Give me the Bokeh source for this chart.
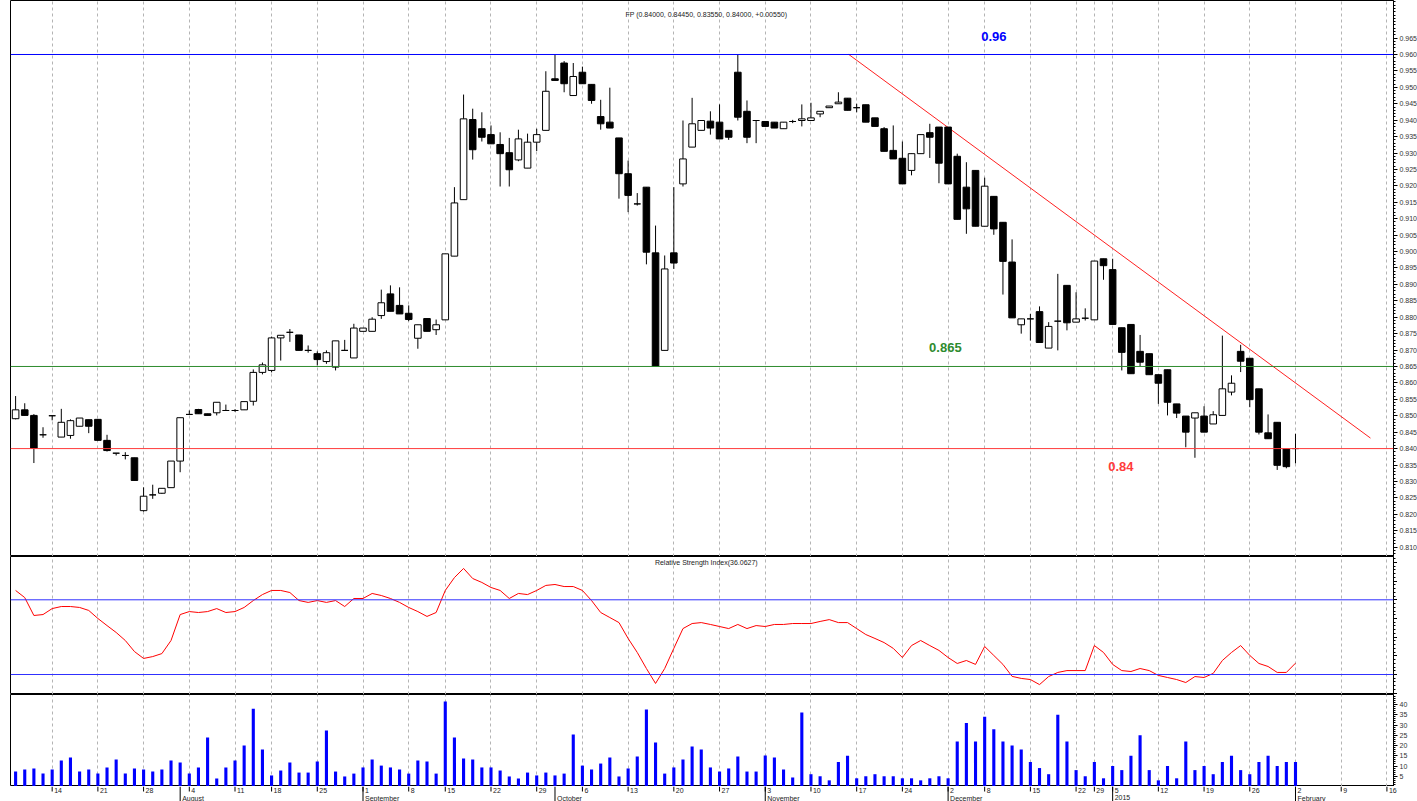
import numpy as np
from bokeh.plotting import figure
from bokeh.layouts import column
from bokeh.models import Range1d, Span, FixedTicker, Grid, PrintfTickFormatter, ColumnDataSource, LinearAxis
from bokeh.core.properties import value
from bokeh.embed import file_html
from bokeh.resources import INLINE

# ---------------- data ----------------
opens = [0.8491,0.8518,0.8501,0.8442,0.8500,0.8435,0.8440,0.8468,0.8488,0.8489,
         0.8425,0.8386,0.8379,0.8372,0.8211,0.8259,0.8264,0.8281,0.8362,0.8504,
         0.8519,0.8506,0.8509,0.8516,0.8516,0.8518,0.8544,0.8632,0.8638,0.8737,
         0.8754,0.8746,0.8699,0.8689,0.8665,0.8648,0.8699,0.8676,0.8757,0.8757,
         0.8805,0.8871,0.8836,0.8812,0.8736,0.8796,0.8762,0.8792,0.8986,0.9158,
         0.9402,0.9374,0.9356,0.9326,0.9301,0.9279,0.9254,0.9333,0.9369,0.9526,
         0.9574,0.9475,0.9546,0.9509,0.9411,0.9394,0.9346,0.9237,0.9145,0.9196,
         0.8996,0.8699,0.8996,0.9206,0.9318,0.9369,0.9397,0.9394,0.9369,0.9546,
         0.9427,0.9399,0.9396,0.9394,0.9374,0.9396,0.9399,0.9399,0.9419,0.9438,
         0.9450,0.9467,0.9438,0.9447,0.9407,0.9374,0.9308,0.9284,0.9247,0.9298,
         0.9362,0.9379,0.9379,0.9290,0.9196,0.9247,0.9077,0.9168,0.9089,0.8968,
         0.8777,0.8795,0.8817,0.8706,0.8788,0.8897,0.8785,0.8797,0.8792,0.8978,
         0.8945,0.8768,0.8778,0.8696,0.8689,0.8625,0.8640,0.8536,0.8499,0.8493,
         0.8499,0.8475,0.8501,0.8572,0.8696,0.8675,0.8582,0.8448,0.8480,0.8399,
         0.8400]
highs = [0.8560,0.8538,0.8505,0.8465,0.8500,0.8521,0.8489,0.8493,0.8488,0.8489,
         0.8442,0.8386,0.8389,0.8372,0.8282,0.8290,0.8279,0.8362,0.8494,0.8516,
         0.8521,0.8506,0.8541,0.8534,0.8520,0.8543,0.8641,0.8662,0.8741,0.8745,
         0.8764,0.8746,0.8714,0.8696,0.8699,0.8728,0.8731,0.8780,0.8767,0.8800,
         0.8884,0.8897,0.8891,0.8836,0.8777,0.8796,0.8793,0.8993,0.9196,0.9478,
         0.9435,0.9424,0.9384,0.9363,0.9346,0.9371,0.9359,0.9374,0.9549,0.9600,
         0.9580,0.9574,0.9563,0.9509,0.9462,0.9499,0.9346,0.9277,0.9178,0.9196,
         0.9079,0.8988,0.9196,0.9399,0.9468,0.9399,0.9427,0.9448,0.9369,0.9600,
         0.9460,0.9399,0.9396,0.9394,0.9394,0.9401,0.9448,0.9453,0.9427,0.9443,
         0.9485,0.9467,0.9450,0.9447,0.9407,0.9379,0.9384,0.9335,0.9298,0.9356,
         0.9389,0.9379,0.9379,0.9298,0.9272,0.9247,0.9225,0.9168,0.9089,0.9037,
         0.8795,0.8810,0.8833,0.8785,0.8932,0.8897,0.8876,0.8827,0.8971,0.8978,
         0.8978,0.8768,0.8778,0.8746,0.8689,0.8625,0.8640,0.8536,0.8499,0.8509,
         0.8529,0.8514,0.8744,0.8623,0.8716,0.8675,0.8582,0.8504,0.8480,0.8399,
         0.8445]
lows = [0.8489,0.8501,0.8356,0.8433,0.8486,0.8435,0.8430,0.8468,0.8447,0.8425,
        0.8391,0.8379,0.8367,0.8303,0.8208,0.8247,0.8262,0.8281,0.8328,0.8504,
        0.8506,0.8501,0.8501,0.8516,0.8512,0.8518,0.8531,0.8626,0.8632,0.8668,
        0.8725,0.8699,0.8692,0.8653,0.8658,0.8638,0.8699,0.8676,0.8757,0.8757,
        0.8795,0.8818,0.8810,0.8788,0.8704,0.8757,0.8746,0.8792,0.8986,0.9158,
        0.9280,0.9335,0.9328,0.9198,0.9198,0.9275,0.9254,0.9306,0.9369,0.9521,
        0.9485,0.9475,0.9511,0.9450,0.9371,0.9376,0.9161,0.9120,0.9140,0.8961,
        0.8650,0.8699,0.8947,0.9198,0.9318,0.9369,0.9356,0.9343,0.9340,0.9399,
        0.9330,0.9330,0.9381,0.9376,0.9374,0.9391,0.9381,0.9399,0.9409,0.9438,
        0.9450,0.9430,0.9424,0.9394,0.9381,0.9305,0.9282,0.9206,0.9232,0.9298,
        0.9285,0.9208,0.9206,0.9098,0.9054,0.9077,0.9077,0.9051,0.8869,0.8798,
        0.8750,0.8729,0.8723,0.8706,0.8699,0.8760,0.8785,0.8790,0.8792,0.8914,
        0.8778,0.8638,0.8628,0.8650,0.8625,0.8536,0.8501,0.8493,0.8404,0.8372,
        0.8450,0.8475,0.8501,0.8562,0.8633,0.8526,0.8443,0.8430,0.8335,0.8340,
        0.8355]
closes = [0.8518,0.8501,0.8401,0.8442,0.8500,0.8480,0.8485,0.8493,0.8468,0.8425,
          0.8394,0.8386,0.8379,0.8303,0.8255,0.8259,0.8279,0.8362,0.8494,0.8504,
          0.8506,0.8501,0.8541,0.8516,0.8516,0.8543,0.8632,0.8655,0.8737,0.8745,
          0.8754,0.8699,0.8699,0.8671,0.8692,0.8728,0.8699,0.8767,0.8767,0.8794,
          0.8844,0.8818,0.8810,0.8793,0.8777,0.8757,0.8777,0.8993,0.9148,0.9404,
          0.9310,0.9348,0.9328,0.9298,0.9249,0.9343,0.9333,0.9356,0.9488,0.9521,
          0.9511,0.9533,0.9511,0.9460,0.9389,0.9376,0.9237,0.9171,0.9145,0.8998,
          0.8650,0.8947,0.8965,0.9282,0.9389,0.9399,0.9376,0.9343,0.9348,0.9409,
          0.9348,0.9399,0.9381,0.9376,0.9394,0.9396,0.9404,0.9407,0.9427,0.9443,
          0.9455,0.9430,0.9438,0.9394,0.9381,0.9305,0.9282,0.9206,0.9298,0.9356,
          0.9348,0.9269,0.9206,0.9098,0.9130,0.9077,0.9199,0.9069,0.8970,0.8798,
          0.8795,0.8795,0.8723,0.8772,0.8788,0.8783,0.8795,0.8797,0.8971,0.8957,
          0.8778,0.8693,0.8628,0.8663,0.8625,0.8599,0.8541,0.8508,0.8450,0.8509,
          0.8450,0.8503,0.8582,0.8599,0.8666,0.8549,0.8450,0.8430,0.8349,0.8345,
          0.8400]
volume = [7.3, 8.3, 8.8, 6.3, 8.3, 12.7, 14.1, 7.3, 8.3, 6.3,
          9.3, 13.2, 6.3, 8.8, 8.3, 7.3, 8.3, 12.7, 11.7, 6.3,
          9.3, 23.9, 3.9, 9.3, 12.7, 20.0, 38.0, 18.0, 5.4, 7.8,
          11.7, 6.8, 6.8, 12.2, 27.3, 7.3, 4.9, 6.3, 9.3, 13.2,
          10.2, 9.3, 8.3, 6.3, 12.7, 12.2, 6.3, 41.5, 23.9, 13.7,
          13.2, 9.3, 9.3, 7.8, 4.9, 3.9, 6.8, 5.4, 6.8, 5.4,
          6.3, 25.4, 10.2, 8.3, 11.2, 14.1, 4.9, 8.8, 14.6, 37.6,
          21.5, 6.3, 9.3, 13.2, 19.5, 18.0, 9.3, 7.3, 8.8, 14.6,
          7.3, 7.3, 15.1, 14.1, 8.3, 4.4, 36.1, 6.0, 5.0, 3.0,
          12.0, 15.0, 4.0, 5.0, 6.0, 5.0, 5.0, 4.0, 4.0, 3.0,
          4.0, 5.0, 4.0, 22.0, 31.0, 22.0, 34.0, 28.0, 22.0, 20.0,
          18.0, 12.0, 9.0, 6.0, 35.0, 22.0, 8.0, 5.0, 12.0, 4.0,
          10.0, 8.0, 15.0, 25.0, 8.0, 3.0, 10.0, 4.0, 22.0, 8.0,
          10.0, 6.0, 12.0, 15.0, 8.0, 6.0, 12.0, 15.0, 10.0, 12.0,
          12.0]
rsi = [75.0,71.2,61.6,62.1,65.3,66.4,66.4,65.9,64.3,60.0,
       56.2,52.5,48.2,42.3,38.6,39.6,41.2,48.2,62.1,63.7,
       63.2,63.7,65.3,63.2,63.7,65.9,69.6,72.8,75.0,75.0,
       73.9,69.6,68.6,69.6,68.6,69.6,66.4,70.7,70.7,73.4,
       72.3,70.7,68.6,65.9,63.7,61.1,63.2,75.0,81.9,86.8,
       81.4,79.3,76.6,75.0,70.7,73.4,72.8,75.0,77.7,78.2,
       77.1,77.1,75.0,69.6,63.2,60.5,57.8,49.3,41.8,33.2,
       25.2,33.2,44.0,54.6,57.3,57.8,56.8,55.7,54.6,56.8,
       54.6,56.2,55.7,56.8,56.8,57.3,57.3,57.3,58.4,59.4,
       57.8,57.8,54.6,51.4,49.3,47.1,44.0,39.1,45.5,48.2,
       45.5,42.9,39.1,35.9,37.5,35.4,45.0,40.2,35.4,29.0,
       27.9,27.3,24.6,28.9,31.1,32.1,32.1,32.1,45.5,41.8,
       35.4,32.1,31.6,33.2,32.1,29.5,28.4,27.3,25.7,28.9,
       28.4,30.6,37.5,41.8,45.5,40.2,35.9,34.3,31.1,31.1,
       36.06]

week_ticks = [4, 9, 14, 19, 24, 28, 33, 38, 43, 47, 52, 57, 62, 67, 72, 77, 82, 87,
              92, 97, 102, 106, 111, 116, 118, 120, 125, 130, 135, 140, 145, 150]
week_labels = ["14", "21", "28", "4", "11", "18", "25", "1", "8", "15", "22", "29",
               "6", "13", "20", "27", "3", "10", "17", "24", "2", "8", "15", "22",
               "29", "5", "12", "19", "26", "2", "9", "16"]
month_ticks = [18, 38, 59, 82, 102, 120, 140]
month_labels = ["August", "September", "October", "November", "December", "2015", "February"]

level_values = [0.96, 0.865, 0.84]
level_texts = ["0.96", "0.865", "0.84"]
level_colors = ["#0000FF", "#2E8B2E", "#FF3B3B"]

trend_x = [91.14, 148.2]
trend_y = [0.96, 0.8432]

title_text = "FP (0.84000, 0.84450, 0.83550, 0.84000, +0.00550)"
rsi_title = "Relative Strength Index(36.0627)"

# ---------------- layout constants ----------------
FONT = "Liberation Sans"
LEFT = 10
FW = 1383
PX = 9.142            # pixels per bar slot
X0, X1 = -0.558, 150.72
xr = Range1d(X0, X1)
GRID_COLOR = "#b4b4b4"

idx = list(range(len(closes)))


def base_fig(h, yr):
    f = figure(frame_width=FW, frame_height=h, x_range=xr, y_range=yr,
               output_backend="svg", toolbar_location=None,
               x_axis_location=None, y_axis_location=None,
               min_border=0, min_border_left=LEFT)
    f.xgrid.visible = False
    f.ygrid.visible = False
    f.outline_line_color = "black"
    f.outline_line_width = 1
    f.background_fill_color = "white"
    f.border_fill_color = "white"
    g = Grid(dimension=0, ticker=FixedTicker(ticks=week_ticks),
             grid_line_color=GRID_COLOR, grid_line_dash="3 3", grid_line_width=1)
    f.add_layout(g)
    return f


def right_axis(f, major, minor, fmt=None, labels=True):
    ax = LinearAxis(ticker=FixedTicker(ticks=major, minor_ticks=minor))
    ax.axis_line_color = "black"
    ax.major_tick_out = 4
    ax.major_tick_in = 0
    ax.minor_tick_out = 2
    ax.minor_tick_in = 0
    ax.major_tick_line_color = "black"
    ax.minor_tick_line_color = "black"
    ax.major_label_standoff = 2
    ax.major_label_text_font = FONT
    ax.major_label_text_font_size = "7px"
    ax.major_label_text_color = "#333333"
    if fmt is not None:
        ax.formatter = fmt
    if not labels:
        ax.major_label_overrides = {t: "" for t in major}
    f.add_layout(ax, "right")
    return ax


# ---------------- main price panel ----------------
p = base_fig(556, Range1d(0.80714, 0.97644))
price_major = [round(0.81 + 0.005 * k, 3) for k in range(32)]
price_minor = [round(0.807 + 0.001 * k, 3) for k in range(171)]
right_axis(p, price_major, price_minor, PrintfTickFormatter(format="%.3f"))

for lv, lc in zip(level_values, level_colors):
    p.add_layout(Span(location=lv, dimension="width", line_color=lc, line_width=1))

p.line(trend_x, trend_y, line_color="#FF2020", line_width=1)

src = ColumnDataSource(dict(x=idx, h=highs, l=lows))
up_idx = [i for i in idx if closes[i] >= opens[i]]
dn_idx = [i for i in idx if closes[i] < opens[i]]
p.segment(x0="x", y0="l", x1="x", y1="h", source=src, line_color="black", line_width=1)
up = ColumnDataSource(dict(x=[idx[i] for i in up_idx],
                           top=[max(opens[i], closes[i]) for i in up_idx],
                           bot=[min(opens[i], closes[i]) for i in up_idx]))
dn = ColumnDataSource(dict(x=[idx[i] for i in dn_idx],
                           top=[max(opens[i], closes[i]) for i in dn_idx],
                           bot=[min(opens[i], closes[i]) for i in dn_idx]))
p.vbar(x="x", width=0.72, top="top", bottom="bot", source=up,
       fill_color="white", line_color="black", line_width=1)
p.vbar(x="x", width=0.72, top="top", bottom="bot", source=dn,
       fill_color="black", line_color="black", line_width=1)

# level annotations
lbl_x = [107.0, 101.7, 120.9]
lbl_y = [0.9655, 0.8708, 0.8345]
p.text(x=lbl_x, y=lbl_y, text=level_texts, text_color=level_colors,
       text_font=value(FONT), text_font_size="13px", text_font_style="bold",
       text_align="center", text_baseline="middle")

p.text(x=[75.55], y=[0.9722], text=[title_text], text_font=value(FONT),
       text_font_size="7px", text_color="#222222",
       text_align="center", text_baseline="middle")

# ---------------- RSI panel ----------------
r = base_fig(138, Range1d(19.29, 93.19))
right_axis(r, [20, 30, 40, 50, 60, 70, 80, 90], list(range(20, 94, 2)), labels=False)
r.add_layout(Span(location=70, dimension="width", line_color="#3030FF", line_width=1))
r.add_layout(Span(location=30, dimension="width", line_color="#3030FF", line_width=1))
r.line(idx, rsi, line_color="#FF0000", line_width=1)
r.text(x=[75.55], y=[89.9], text=[rsi_title], text_font=value(FONT),
       text_font_size="7px", text_color="#222222",
       text_align="center", text_baseline="middle")

# ---------------- volume panel ----------------
v = base_fig(92, Range1d(0, 44.9))
right_axis(v, [5, 10, 15, 20, 25, 30, 35, 40], list(range(0, 45, 1)))
v.vbar(x=idx, width=0.34, top=volume, bottom=0, fill_color="#0000FF", line_color=None)

# ---------------- date axis strip ----------------
EXTRA = 20
s = figure(frame_width=FW + EXTRA, frame_height=15,
           x_range=Range1d(X0, X1 + EXTRA / PX), y_range=Range1d(15, 0),
           output_backend="svg", toolbar_location=None,
           x_axis_location=None, y_axis_location=None,
           min_border=0, min_border_left=LEFT)
s.xgrid.visible = False
s.ygrid.visible = False
s.outline_line_color = None
s.segment(x0=week_ticks, y0=[0] * len(week_ticks), x1=week_ticks, y1=[5] * len(week_ticks),
          line_color="black", line_width=1)
s.segment(x0=month_ticks, y0=[0] * len(month_ticks), x1=month_ticks, y1=[15] * len(month_ticks),
          line_color="black", line_width=1)
s.text(x=week_ticks, y=[1] * len(week_ticks), text=week_labels, x_offset=2,
       text_font=value(FONT), text_font_size="7px", text_color="#222222",
       text_align="left", text_baseline="top")
s.text(x=month_ticks, y=[8] * len(month_ticks), text=month_labels, x_offset=2,
       text_font=value(FONT), text_font_size="7px", text_color="#222222",
       text_align="left", text_baseline="top")

layout = column(p, r, v, s, spacing=0)
open("out.html", "w").write(file_html(layout, INLINE))
